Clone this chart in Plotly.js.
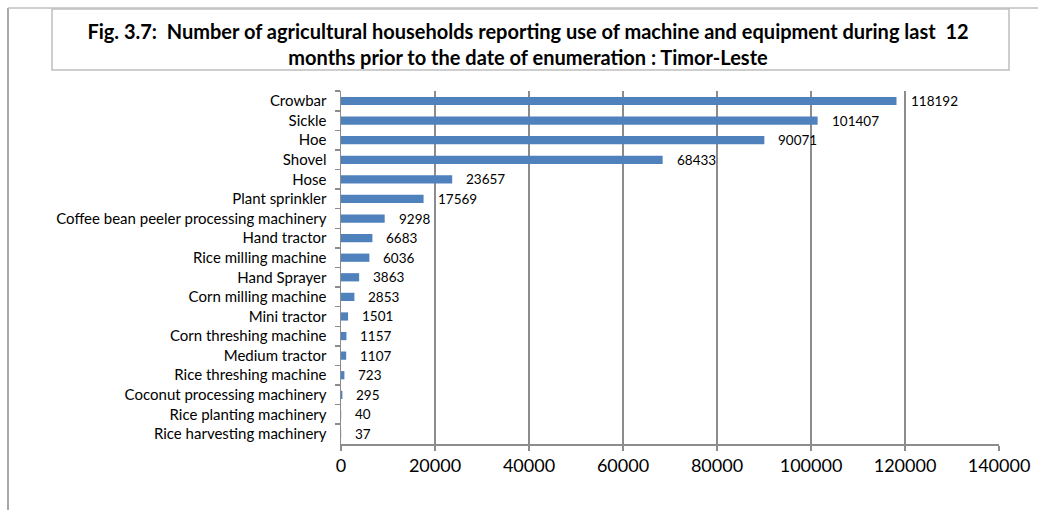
<!DOCTYPE html>
<html>
<head>
<meta charset="utf-8">
<script src="https://cdn.plot.ly/plotly-3.0.1.min.js"></script>
<style>html,body{margin:0;padding:0;background:#fff;}#chart{width:1038px;height:510px;}</style>
</head>
<body>
<div id="chart"></div>
<script>
const categories = ["Crowbar","Sickle","Hoe","Shovel","Hose","Plant sprinkler","Coffee bean peeler processing machinery","Hand tractor","Rice milling machine","Hand Sprayer","Corn milling machine","Mini tractor","Corn threshing machine","Medium tractor","Rice threshing machine","Coconut processing machinery","Rice planting machinery","Rice harvesting machinery"];
const households = [118192,101407,90071,68433,23657,17569,9298,6683,6036,3863,2853,1501,1157,1107,723,295,40,37];
const xTicks = [0,20000,40000,60000,80000,100000,120000,140000];
const titleText = "Fig. 3.7:  Number of agricultural households reporting use of machine and equipment during last  12<br>months prior to the date of enumeration : Timor-Leste";

const W = 1038, H = 510;
const mL = 341, mR = 39, mT = 91, mB = 66;
const pw = W - mL - mR, ph = H - mT - mB;
const px = v => (v - mL) / pw;
const py = v => (H - mB - v) / ph;

const font = "Lato, 'Open Sans', sans-serif";

const trace = {
  type: 'bar', orientation: 'h',
  x: households, y: categories,
  marker: {color: '#4f81bd'},
  width: 0.42,
  hoverinfo: 'none'
};

const annotations = households.map((v, i) => ({
  x: v, y: categories[i], xref: 'x', yref: 'y',
  text: String(v), showarrow: false, xanchor: 'left', xshift: 12, yshift: 0,
  font: {family: font, size: 13.5, color: '#000'}
}));

const grey = '#8c8c8c';
const shapes = [
  {type:'rect', xref:'paper', yref:'paper', x0:px(52), x1:px(1009), y0:py(70), y1:py(9), line:{color:'#bfbfbf', width:1.5}, fillcolor:'rgba(0,0,0,0)'},
  {type:'line', xref:'paper', yref:'paper', x0:px(8), x1:px(8), y0:py(8), y1:py(512), line:{color:grey, width:1.5}},
  {type:'line', xref:'paper', yref:'paper', x0:px(8), x1:px(1040), y0:py(8), y1:py(8), line:{color:'#bfbfbf', width:1.5}}
];

const layout = {
  width: W, height: H,
  margin: {l: mL, r: mR, t: mT, b: mB, pad: 0},
  paper_bgcolor: '#fff', plot_bgcolor: '#fff',
  showlegend: false,
  title: {
    text: titleText,
    x: 528 / W, xanchor: 'center',
    y: 1 - 39 / H, yanchor: 'middle',
    font: {family: font, size: 20, color: '#000', weight: 'bold'}
  },
  xaxis: {
    range: [0, 140000], tickvals: xTicks, ticktext: xTicks.map(String),
    showgrid: true, gridcolor: grey, gridwidth: 1.5,
    showline: true, linecolor: grey, linewidth: 1.5,
    ticks: 'outside', ticklen: 5, tickcolor: grey, tickwidth: 1.5,
    zeroline: false, fixedrange: true,
    tickfont: {family: font, size: 18, color: '#000'}
  },
  yaxis: {
    type: 'category', autorange: 'reversed',
    showgrid: false, showline: true, linecolor: grey, linewidth: 1.5,
    ticks: 'outside', ticklen: 5, tickcolor: grey, tickwidth: 1.5, tickson: 'boundaries',
    ticklabelstandoff: 10,
    tickfont: {family: font, size: 15, color: '#000'},
    zeroline: false, fixedrange: true
  },
  shapes: shapes,
  annotations: annotations
};

Plotly.newPlot('chart', [trace], layout, {staticPlot: true, displayModeBar: false});
</script>
</body>
</html>
